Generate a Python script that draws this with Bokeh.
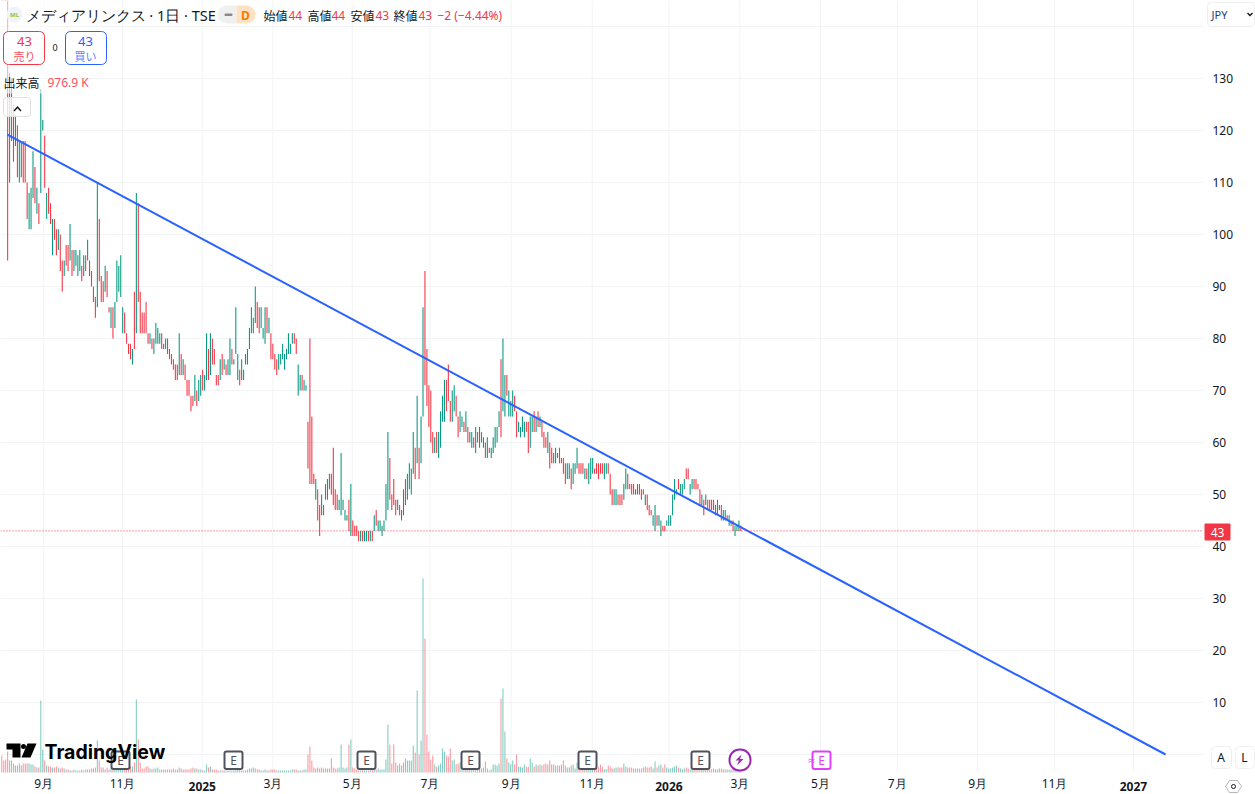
from bokeh.embed import file_html
from bokeh.models import (BoxAnnotation, ColumnDataSource, FixedTicker, Label,
                          PolyAnnotation, Range1d)
from bokeh.plotting import figure
from bokeh.resources import INLINE

# daily bars (yen); bar_up 1 = green, 0 = red
bar_high = [
    165, 160, 155, 145, 131, 130, 125, 123, 121, 118,
    118, 118, 118, 110, 108, 109, 116, 113, 109, 106,
    128, 122, 119, 108, 109, 106, 103, 103, 101, 101,
    100, 95, 95, 98, 98, 102, 97, 97, 97, 96,
    97, 94, 96, 96, 99, 95, 93, 90, 88, 110,
    103, 92, 91, 94, 93, 86, 86, 86, 87, 95,
    94, 96, 86, 85, 81, 79, 79, 78, 89, 108,
    106, 89, 85, 85, 87, 81, 81, 80, 80, 83,
    82, 81, 81, 79, 80, 80, 78, 77, 76, 75,
    75, 81, 77, 76, 75, 72, 72, 69, 69, 73,
    70, 72, 73, 74, 73, 81, 78, 81, 80, 78,
    73, 73, 76, 77, 76, 75, 76, 80, 78, 76,
    86, 77, 74, 76, 74, 77, 78, 82, 86, 84,
    90, 87, 86, 86, 82, 86, 86, 84, 81,
    79, 77, 76, 77, 77, 79, 77, 78, 81, 79,
    81, 81, 80, 75, 73, 73, 72, 71, 64, 80,
    65, 54, 53, 51, 48, 50, 48, 52, 53, 54,
    54, 59, 51, 50, 49, 58, 49, 47, 46, 49,
    52, 45, 44, 44, 43, 43, 43, 43, 43, 43,
    43, 43, 46, 47, 45, 45, 44, 45, 52, 62,
    57, 50, 53, 49, 49, 48, 47, 51, 53, 54,
    56, 55, 62, 59, 69, 59, 65, 86, 93, 78,
    71, 70, 62, 61, 62, 62, 66, 69, 72, 72,
    75, 68, 70, 71, 69, 65, 66, 65, 64, 66,
    63, 62, 62, 61, 63, 62, 63, 62, 61, 60,
    61, 59, 59, 61, 63, 63, 66, 76, 80, 73,
    73, 70, 68, 70, 69, 66, 64, 63, 65, 64,
    64, 64, 65, 65, 66, 65, 66, 65,
    64, 62, 61, 62, 60, 59, 58, 59, 58, 59,
    57, 57, 56, 56, 56, 55, 56, 56, 59, 56,
    56, 56, 55, 55, 56, 57, 57, 55, 56, 56,
    56, 56, 56, 56, 56, 54, 51, 51, 51, 50,
    50, 50, 52, 55, 54, 52, 52, 52, 51, 52,
    52, 51, 51, 50, 50, 48, 47, 46, 48, 46,
    46, 45, 44, 44, 45, 46, 46, 50, 53, 51,
    53, 52, 52, 53, 55, 55, 52, 53, 53, 53,
    52, 51, 50, 49, 50, 49, 49, 49, 49, 48,
    49, 48, 48, 47, 47, 46, 46, 45, 45, 44,
    44, 45, 44,
]
bar_low = [
    150, 146, 146, 95, 110, 118, 114, 117, 111, 110,
    111, 110, 110, 103, 101, 101, 107, 106, 104, 102,
    108, 120, 109, 103, 104, 102, 96, 99, 96, 97,
    93, 89, 92, 94, 93, 95, 92, 93, 94, 92,
    93, 91, 92, 93, 95, 92, 90, 87, 84, 86,
    91, 87, 87, 89, 88, 85, 82, 80, 82, 87,
    89, 88, 81, 81, 79, 77, 76, 75, 78, 81,
    87, 81, 81, 81, 81, 79, 79, 78, 77, 79,
    79, 79, 78, 78, 78, 77, 76, 75, 74, 72,
    72, 73, 73, 73, 72, 69, 69, 66, 67, 68,
    67, 68, 69, 70, 70, 72, 72, 73, 75, 75,
    71, 71, 72, 73, 74, 73, 73, 73, 75, 75,
    77, 72, 71, 72, 72, 75, 75, 78, 81, 81,
    83, 82, 81, 82, 80, 79, 81, 81, 76,
    76, 74, 73, 74, 75, 76, 74, 76, 77, 77,
    79, 79, 77, 69, 70, 70, 70, 70, 55, 52,
    52, 52, 49, 45, 42, 46, 46, 49, 49, 51,
    50, 48, 47, 47, 47, 46, 47, 45, 45, 43,
    42, 42, 42, 42, 41, 41, 41, 41, 41, 41,
    41, 41, 43, 44, 43, 43, 42, 43, 45, 47,
    49, 47, 48, 46, 47, 46, 45, 46, 48, 49,
    51, 50, 54, 53, 56, 53, 56, 65, 71, 67,
    63, 60, 58, 58, 58, 57, 59, 64, 64, 66,
    68, 64, 64, 66, 65, 61, 62, 63, 62, 62,
    60, 60, 59, 59, 58, 60, 59, 60, 59, 57,
    57, 58, 57, 58, 59, 60, 63, 61, 66, 65,
    69, 65, 65, 65, 66, 61, 62, 61, 62, 61,
    62, 58, 59, 62, 62, 62, 63, 63,
    61, 59, 59, 58, 55, 56, 56, 56, 57, 56,
    56, 54, 52, 53, 53, 51, 52, 54, 55, 54,
    54, 54, 53, 53, 52, 53, 54, 54, 54, 53,
    54, 54, 53, 54, 54, 50, 48, 48, 48, 48,
    48, 48, 49, 51, 51, 51, 50, 50, 50, 50,
    50, 49, 50, 48, 47, 46, 46, 44, 43, 44,
    44, 42, 43, 43, 44, 44, 44, 46, 49, 50,
    51, 50, 50, 51, 53, 53, 50, 51, 51, 51,
    51, 48, 48, 46, 48, 47, 47, 47, 47, 46,
    46, 47, 45, 45, 45, 45, 44, 44, 43, 42,
    43, 43, 43,
]
bar_up = [
    0, 0, 0, 0, 1, 0, 0, 1, 0, 1,
    1, 0, 0, 0, 1, 1, 1, 0, 1, 0,
    1, 1, 0, 1, 0, 0, 1, 0, 0, 1,
    0, 0, 1, 0, 0, 1, 0, 1, 1, 1,
    1, 0, 1, 0, 1, 0, 0, 0, 0, 1,
    0, 0, 0, 1, 0, 0, 1, 0, 1, 1,
    1, 1, 1, 0, 0, 0, 0, 1, 0, 1,
    0, 0, 0, 0, 0, 0, 1, 0, 1, 1,
    1, 1, 0, 1, 1, 0, 0, 0, 0, 0,
    0, 1, 0, 1, 0, 0, 0, 0, 0, 1,
    0, 1, 1, 0, 1, 1, 0, 1, 0, 0,
    0, 0, 1, 0, 1, 0, 1, 1, 0, 1,
    1, 1, 0, 1, 1, 1, 1, 1, 1, 1,
    1, 0, 0, 1, 1, 1, 0, 1, 0,
    0, 0, 0, 1, 1, 1, 1, 1, 1, 1,
    1, 0, 0, 1, 1, 0, 1, 1, 0, 0,
    0, 0, 1, 0, 0, 1, 0, 0, 1, 1,
    0, 0, 0, 0, 1, 1, 1, 1, 1, 0,
    1, 0, 0, 0, 0, 1, 0, 1, 1, 0,
    1, 0, 1, 0, 1, 1, 1, 1, 1, 1,
    0, 0, 0, 0, 1, 0, 1, 1, 0, 1,
    1, 1, 1, 0, 1, 0, 1, 1, 0, 0,
    0, 0, 0, 1, 0, 1, 1, 1, 1, 0,
    0, 0, 1, 1, 0, 0, 1, 1, 0, 1,
    0, 1, 1, 0, 1, 0, 1, 0, 1, 0,
    1, 0, 1, 1, 1, 1, 1, 0, 1, 1,
    0, 1, 1, 1, 0, 0, 1, 1, 1, 1,
    0, 0, 1, 1, 0, 1, 0, 1,
    0, 0, 0, 1, 0, 0, 1, 1, 0, 0,
    0, 0, 0, 1, 1, 0, 1, 1, 1, 0,
    0, 0, 1, 0, 1, 1, 1, 0, 0, 0,
    0, 0, 1, 1, 0, 0, 0, 1, 1, 0,
    0, 0, 1, 1, 0, 0, 0, 0, 1, 1,
    0, 0, 0, 1, 0, 0, 0, 1, 1, 0,
    1, 1, 0, 0, 1, 1, 1, 1, 1, 1,
    0, 1, 1, 1, 0, 0, 1, 1, 0, 0,
    0, 0, 1, 0, 1, 0, 0, 0, 0, 0,
    1, 1, 0, 1, 1, 0, 1, 1, 0, 1,
    1, 1, 0,
]
# volume in millions of shares
volume_m = [
    5.1, 3.6, 3.9, 6.3, 3.6, 3.6, 2.7, 2.1, 2.1, 2.7,
    2.1, 2.7, 2.7, 2.7, 2.7, 2.4, 2.4, 1.8, 1.5, 1.5,
    21.6, 6.9, 3.6, 2.1, 1.8, 1.8, 1.5, 1.5, 1.8, 1.5,
    1.2, 1.5, 1.2, .9, .9, .6, .6, .9, .6, .6,
    .6, .9, .6, .9, .9, .9, 1.2, 1.2, 1.5, 9.6,
    3.6, 1.5, 1.5, .9, 1.5, .9, 1.2, 1.5, .9, 1.5,
    1.5, 1.2, 1.5, 1.5, 1.2, 1.2, 1.8, 1.8, 3, 21.9,
    9.9, 3, 1.2, 1.2, 1.8, 1.8, 1.2, .9, 1.2, 1.2,
    1.5, .9, .9, .9, .9, .9, .9, .9, 1.2, .9,
    .9, 1.5, 1.2, .9, .9, .9, .9, 1.2, 1.5, 1.2,
    1.2, .9, .9, .6, .6, 2.4, 1.5, 1.8, .9, .9,
    .9, .6, .6, .6, .6, .6, .6, .6, .6, .6,
    .9, 1.2, .9, .6, .6, .6, .9, 1.2, 1.2, 1.5,
    1.2, .9, .9, .6, .6, .9, .6, .6, .9,
    .9, .9, .6, .6, .6, .6, .6, .6, .6, .6,
    .9, .9, .9, .6, .6, .6, .9, .9, 5.4, 7.8,
    3.6, 1.5, 1.2, 1.5, 1.2, 1.5, 1.2, 1.2, 1.2, 1.2,
    4.2, 1.5, 1.2, 1.2, 1.5, 8.4, 1.5, 1.2, 1.5, 8.4,
    9.9, 1.5, 1.2, .9, .6, .6, .9, .6, .6, .6,
    .9, .9, .9, .9, 1.2, .9, .9, .9, 3.9, 14.4,
    8.4, 2.7, 8.4, 3, 2.1, 2.7, 2.1, 3, 4.2, 3.6,
    3.6, 3.6, 8.1, 6, 24.6, 5.4, 9.6, 58.2, 40.2, 11.4,
    6.3, 3.9, 5.1, 2.4, 1.7, 2.1, 2.7, 7.2, 6.3, 5.1,
    4.8, 7.2, 3.6, 3.9, 2.5, 2.7, 3, 2.4, 1.5, 1.5,
    1.2, 1.2, 1.2, 1.2, 1.2, 1.2, 1.2, 1.2, 1.5, 3.3,
    1.2, .6, .9, 2.4, 2.4, 2, 2.7, 22.2, 25.2, 12.3,
    4.2, 3, 2.5, 3.6, 2.5, 5.4, 1.7, 1.7, 1.5, 2.4,
    1.7, 1.7, 4.2, 3, 1.7, 2.4, 2.1, 2.4,
    2.1, 2.4, 2.7, 2.4, 3.6, 2.4, 2.4, 2.1, 2.1, 2.1,
    2.4, 3.6, 2.1, 1.5, 1.5, 2.1, 2.4, 1.2, 3, 1.5,
    1.5, 1.5, 1.5, 1.5, 1.2, 1.2, 1.5, 1.5, 1.5, 1.5,
    2.4, 1.8, 1, 1, 2.1, 1.8, 1.2, 1.2, 1.5, 1.5,
    1.5, 1.5, 2.7, 1.8, 1.5, 1.5, 1.5, 1.2, 1.2, 1.2,
    1.2, 1.2, 1.5, 1.8, 1.5, 1.5, 1.8, 1.2, 3.3, 1.5,
    2.1, 2.4, 1.5, 2.4, 1.5, 1.2, 1.2, 1.5, 1.8, 2.1,
    1.5, 1.2, 1, 1.2, 1.5, 1.2, 1, 1.5, 1.2, 1.2,
    1.2, 1.2, 1, 1, 1, 1, 1, 1, 1.2, 1,
    .9, 1.2, 1.2, 1, .9, .9, .9, .9, 1, 1,
    1, 1.2, .98,
]

# month ticks in bar numbers, the future ones run on past the last bar
month_ticks = [21.5, 61.9, 102.8, 139, 179.7, 219.5, 261.2, 302.8, 342.1,
               378.5, 419.8, 459.2, 500.4, 539.9, 580.3]
month_labels = ["9月", "11月", "", "3月", "5月", "7月", "9月", "11月", "",
                "3月", "5月", "7月", "9月", "11月", ""]
year_ticks = [102.8, 342.1, 580.3]
year_labels = ["2025", "2026", "2027"]
price_ticks = list(range(0, 150, 10))

trend_bar = [2.9, 596.8]
trend_price = [119.2, 0]
last_price = 43

UP = "#089981"
DOWN = "#f23645"
BLUE = "#2962ff"
INK = "#131722"
GRID = "#f2f3f5"
JP = "Noto Sans CJK JP"

W, H = 1255, 794
PANE_W, PANE_H = 1203, 772  # where bars and grid stop, the axes sit in the rest
BAR_PX = 1.95
YEN_PX = 5.2
ZERO_Y = 754

x_start = -1.3 / BAR_PX
x_pane_end = (PANE_W - 1.3) / BAR_PX
y_top = ZERO_Y / YEN_PX
y_pane_bottom = (ZERO_Y - PANE_H) / YEN_PX

# the frame fills the canvas, otherwise overlays on the axis strips get clipped
p = figure(width=W, height=H, output_backend="svg", toolbar_location=None,
           y_axis_location="right",
           x_range=Range1d(x_start, (W - 1.3) / BAR_PX),
           y_range=Range1d((ZERO_Y - H) / YEN_PX, y_top),
           min_border_left=0, min_border_top=0, min_border_right=0, min_border_bottom=0)
p.outline_line_color = None
p.background_fill_color = "white"
p.extra_y_ranges = {"volume": Range1d((PANE_H - H) * 0.3, PANE_H * 0.3)}

p.xaxis.ticker = FixedTicker(ticks=month_ticks)
p.xaxis.major_label_overrides = dict(zip(month_ticks, month_labels))
p.yaxis.ticker = FixedTicker(ticks=price_ticks)
p.yaxis.major_label_overrides = {t: "" if t in (0, 140) else str(t) for t in price_ticks}
for ax in (p.xaxis[0], p.yaxis[0]):
    ax.axis_line_color = None
    ax.major_tick_line_color = None
    ax.minor_tick_line_color = None
    ax.major_tick_in = 0
    ax.major_tick_out = 0
    ax.major_label_text_color = INK
    ax.major_label_text_font = "Noto Sans"
    ax.major_label_text_font_size = "12px"
p.yaxis.major_label_standoff = 1212 - W
p.xaxis.major_label_standoff = -20
p.xgrid.visible = False
p.ygrid.visible = False

# grid stops at the axis strips
p.segment(x0=month_ticks, x1=month_ticks, y0=y_pane_bottom, y1=y_top,
          line_color=GRID, line_width=1)
p.segment(x0=x_start, x1=x_pane_end, y0=price_ticks, y1=price_ticks,
          line_color=GRID, line_width=1)

source = ColumnDataSource(dict(
    bar=list(range(len(bar_high))),
    high=bar_high,
    low=bar_low,
    volume=volume_m,
    color=[UP if up else DOWN for up in bar_up],
))
p.vbar(x="bar", top="volume", bottom=0, width=0.55, source=source, color="color",
       alpha=0.5, line_color=None, y_range_name="volume")
p.vbar(x="bar", top="high", bottom="low", width=0.55, source=source, color="color",
       line_color=None)
p.line(trend_bar, trend_price, line_color=BLUE, line_width=2)
p.line([x_start, x_pane_end], [last_price, last_price], line_color=DOWN,
       line_width=1, line_dash="1 2")


# overlays are placed in pixels from the top left of the picture
def box(x0, y0, x1, y1, fill="white", alpha=1.0, line=None, width=1, radius=0):
    p.add_layout(BoxAnnotation(
        left=x0, right=x1, top=H - y0, bottom=H - y1,
        left_units="screen", right_units="screen", top_units="screen", bottom_units="screen",
        fill_color=fill, fill_alpha=alpha, line_color=line, line_width=width,
        line_alpha=1.0, border_radius=radius, level="annotation",
    ))


def txt(x, y, s, color=INK, size=12, align="left", bold=False, font=JP):
    p.add_layout(Label(
        x=x, y=H - y, x_units="screen", y_units="screen", text=s,
        text_color=color, text_font=font, text_font_size=f"{size}px",
        text_align=align, text_baseline="middle",
        text_font_style="bold" if bold else "normal",
    ))


def poly(points, fill=INK, line=None, alpha=1.0):
    p.add_layout(PolyAnnotation(
        xs=[x for x, _ in points], ys=[H - y for _, y in points],
        xs_units="screen", ys_units="screen",
        fill_color=fill, fill_alpha=alpha, line_color=line, line_width=1,
    ))


# year labels are bold, so they do not go through the axis
for tick, label in zip(year_ticks, year_labels):
    p.add_layout(Label(x=tick, y=H - 786, y_units="screen", text=label, text_color=INK,
                       text_font="Noto Sans", text_font_size="12px", text_font_style="bold",
                       text_align="center", text_baseline="middle"))

# legend veil over the first bars
box(0, 0, 45, 93, alpha=0.6)

# header
box(6, 6, 22, 22, fill="#f0f3fa", radius=8)
txt(14, 14.5, "ML", color="#8bc34a", size=6, align="center", bold=True, font="Noto Sans")
txt(25, 14, "メディアリンクス · 1日 · TSE", size=14.5, font="Noto Sans")
box(217, 5, 236, 23, fill="#f0f0f0", radius=(9, 0, 0, 9))
box(236, 5, 255, 23, fill="#fde3c4", radius=(0, 9, 9, 0))
box(224, 13, 232, 15.5, fill="#8a8a8a", radius=1)
txt(245, 14.5, "D", color="#f57c00", size=12, align="center", bold=True, font="Noto Sans")
for x_lab, x_val, lab, val in [(263, 288, "始値", "44"), (307, 331, "高値", "44"),
                               (350, 375, "安値", "43"), (393, 418, "終値", "43")]:
    txt(x_lab, 15, lab)
    txt(x_val, 15, val, color=DOWN, font="Noto Sans")
txt(437, 15, "−2 (−4.44%)", color=DOWN, font="Noto Sans")

# sell / buy boxes
box(3, 31, 44, 64, line=DOWN, radius=5)
txt(24, 41, "43", color=DOWN, size=13, align="center", font="Noto Sans")
txt(24, 55, "売り", color="#f7525f", size=11, align="center")
txt(54.5, 47, "0", size=9, align="center", font="Noto Sans")
box(65, 31, 106, 64, line=BLUE, radius=5)
txt(85, 41, "43", color=BLUE, size=13, align="center", font="Noto Sans")
txt(85, 55, "買い", color="#5b82ff", size=11, align="center")

# volume legend and collapse button
txt(3, 82, "出来高")
txt(47, 82, "976.9 K", color="#f7525f", font="Noto Sans")
box(3, 97, 30, 116, alpha=0.8, line="#e0e0e0", radius=3)
poly([(13, 110), (17, 105.5), (21, 110), (20, 111), (17, 107.8), (14, 111)])

# earnings markers
for x in [120, 233, 366, 470, 587, 700]:
    box(x - 9, 751, x + 9, 768.5, line="#50535e", width=2, radius=2)
    txt(x, 759.5, "E", color="#50535e", size=12, align="center", font="Noto Sans")
box(729, 749, 750, 770, line="#9c27b0", width=2, radius=10)
poly([(741, 754), (735, 760), (738.5, 760), (736.5, 765), (743, 758.5), (739.5, 758.5)],
     fill="#9c27b0")
box(812, 751, 830, 768.5, line="#e040fb", width=2, radius=2)
txt(821, 759.5, "E", color="#e040fb", size=12, align="center", font="Noto Sans")
txt(811, 759.5, "≈", color="#e040fb", size=12, align="center", font="Noto Sans")

# logo
poly([(6, 743), (20, 743), (20, 757), (12, 757), (12, 749), (6, 749)], fill="#000000")
box(20.5, 743.5, 25.5, 748.5, fill="#000000", radius=3)
poly([(27, 743), (36, 743), (30, 757), (21, 757)], fill="#000000")
txt(44, 751, "TradingView", color="#000000", size=19.5, bold=True, font="Inter")

# right hand price tag and buttons
box(1204, 523, 1230, 540, fill=DOWN, radius=1)
txt(1217, 531.5, "43", color="white", size=12, align="center", font="Noto Sans")
box(1207, 2, 1254, 26, line="#eeeeee", radius=4)
txt(1211, 14, "JPY", color="#1c3d7a", size=11, font="Noto Sans")
poly([(1246.5, 13), (1247.5, 12), (1249.5, 14), (1251.5, 12), (1252.5, 13), (1249.5, 16)])
box(1211, 746, 1231, 768, line="#f0f0f0", radius=4)
txt(1220.5, 757, "A", size=12, align="center", font="Noto Sans")
box(1235, 746, 1254, 768, line="#f0f0f0", radius=4)
txt(1244, 757, "L", size=12, align="center", font="Noto Sans")
poly([(1225, 786), (1229, 780), (1237, 780), (1241, 786), (1237, 792), (1229, 792)],
     fill="white", line=INK)
box(1231, 784, 1235, 788, line=INK, radius=2)

open("out.html", "w").write(file_html(p, INLINE))
